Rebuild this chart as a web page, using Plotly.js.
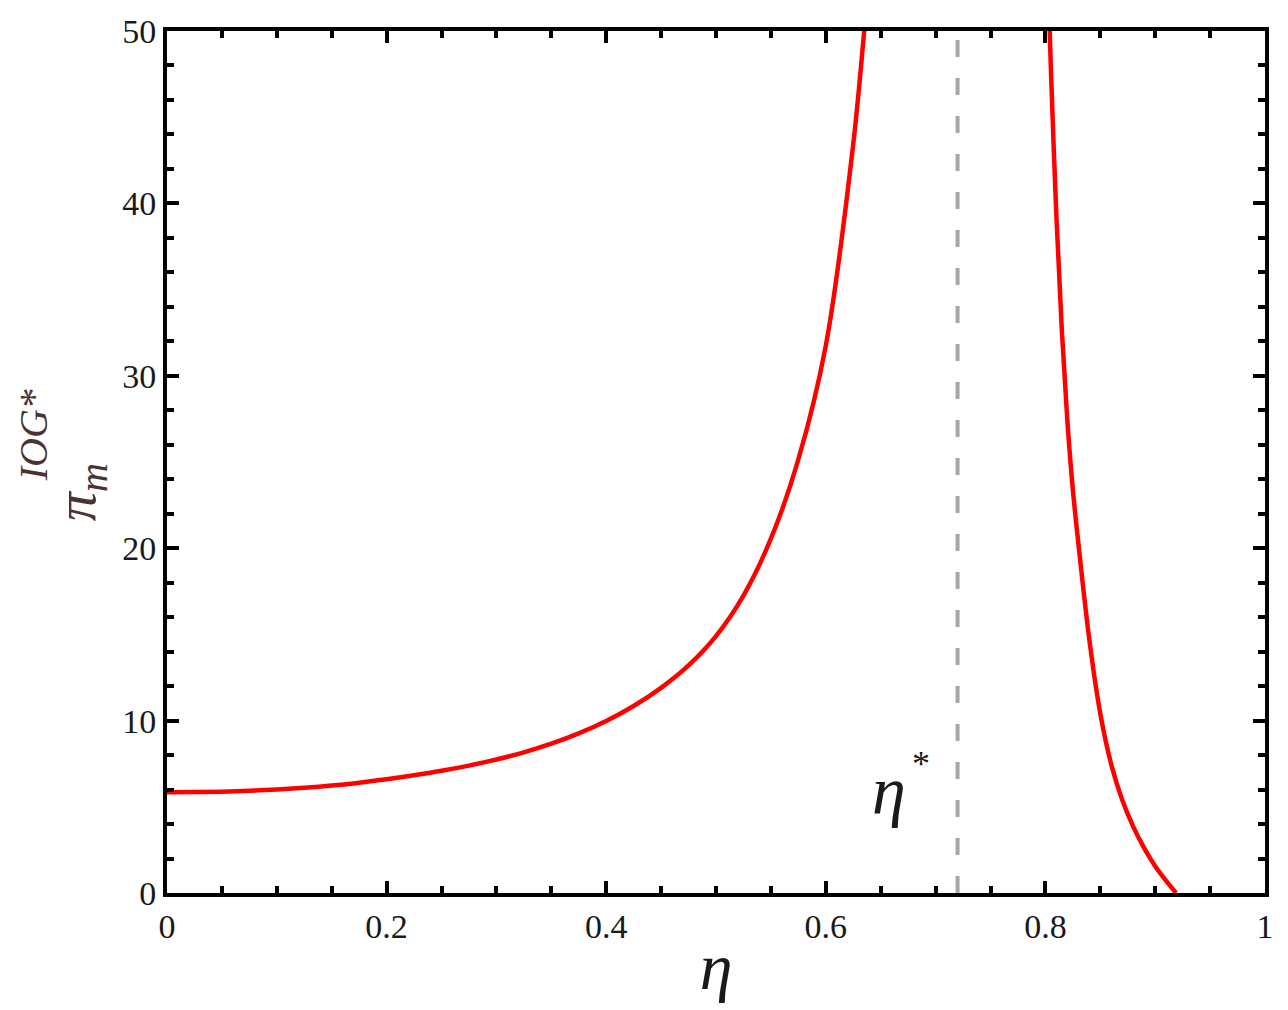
<!DOCTYPE html>
<html>
<head>
<meta charset="utf-8">
<script src="https://cdn.plot.ly/plotly-3.0.1.min.js"></script>
<style>
html,body{margin:0;padding:0;background:#fff;}
#chart{width:1288px;height:1010px;}
</style>
</head>
<body>
<div id="chart"></div>
<script>
// Left branch of pi_m^{IOG*} (eta < eta*)
const etaLeft = [0, 0.025, 0.05, 0.075, 0.10, 0.125, 0.15, 0.175, 0.20, 0.225, 0.25, 0.275, 0.30, 0.325, 0.35, 0.375, 0.40, 0.425, 0.45, 0.475, 0.50, 0.525, 0.55, 0.575, 0.60, 0.625, 0.635, 0.64];
const piLeft  = [5.85, 5.86, 5.88, 5.93, 6.0, 6.1, 6.23, 6.4, 6.6, 6.83, 7.09, 7.39, 7.74, 8.16, 8.66, 9.26, 9.98, 10.85, 11.9, 13.2, 14.9, 17.25, 20.55, 25.15, 31.75, 43.45, 50.0, 53.5];
// Right branch (eta > eta*)
const etaRight = [0.802, 0.805, 0.81, 0.815, 0.82, 0.825, 0.83, 0.84, 0.85, 0.86, 0.87, 0.88, 0.89, 0.90, 0.91, 0.919];
const piRight  = [54.0, 47.8, 39.3, 32.6, 27.4, 23.4, 20.3, 14.7, 10.4, 7.45, 5.4, 3.85, 2.6, 1.55, 0.7, 0.0];
// Threshold eta*
const etaStar = [0.72, 0.72];
const etaStarY = [0, 50];
// Axis ticks
const xTickVals = [0, 0.2, 0.4, 0.6, 0.8, 1];
const xTickText = ['0', '0.2', '0.4', '0.6', '0.8', '1'];
const yTickVals = [0, 10, 20, 30, 40, 50];
const yTickText = ['0', '10', '20', '30', '40', '50'];

const serif = 'Liberation Serif, DejaVu Serif, serif';
const titleColor = '#4a3432';

const traces = [
  {x: etaStar, y: etaStarY, mode: 'lines', type: 'scatter',
   line: {color: '#a6a6a6', width: 4, dash: '17px,21px'}, hoverinfo: 'skip'},
  {x: etaLeft, y: piLeft, mode: 'lines', type: 'scatter',
   line: {color: '#ff0000', width: 4.5, shape: 'spline', smoothing: 1}},
  {x: etaRight, y: piRight, mode: 'lines', type: 'scatter',
   line: {color: '#ff0000', width: 4.5, shape: 'spline', smoothing: 1}}
];

const axisCommon = {
  showgrid: false, zeroline: false,
  showline: true, linecolor: '#000', linewidth: 4, mirror: 'ticks',
  ticks: 'inside', ticklen: 12, tickwidth: 4, tickcolor: '#000',
  tickfont: {family: serif, size: 34, color: '#1a1a1a'}
};

const layout = {
  width: 1288, height: 1010,
  margin: {l: 167, r: 23, t: 31, b: 117},
  paper_bgcolor: '#fff', plot_bgcolor: '#fff',
  showlegend: false,
  xaxis: Object.assign({}, axisCommon, {
    range: [0, 1], tickmode: 'array', tickvals: xTickVals, ticktext: xTickText,
    minor: {dtick: 0.05, ticks: 'inside', ticklen: 7, tickwidth: 4, tickcolor: '#000', showgrid: false},
    title: {text: '<i>η</i>', font: {family: serif, size: 66, color: '#1a1a1a'}, standoff: 0}
  }),
  yaxis: Object.assign({}, axisCommon, {
    range: [0, 50], tickmode: 'array', tickvals: yTickVals, ticktext: yTickText,
    minor: {dtick: 2, ticks: 'inside', ticklen: 7, tickwidth: 4, tickcolor: '#000', showgrid: false}
  }),
  annotations: [
    {xref: 'paper', yref: 'paper', x: -0.080, y: 0.465, xanchor: 'center', yanchor: 'middle',
     text: '<i>π<sub>m</sub></i>', textangle: -90, showarrow: false,
     font: {family: serif, size: 58, color: titleColor}},
    {xref: 'paper', yref: 'paper', x: -0.122, y: 0.531, xanchor: 'center', yanchor: 'middle',
     text: '<i>IOG*</i>', textangle: -90, showarrow: false,
     font: {family: serif, size: 40, color: titleColor}},
    {xref: 'paper', yref: 'paper', x: 0.658, y: 0.118, xanchor: 'center', yanchor: 'middle',
     text: '<i>η</i>', showarrow: false,
     font: {family: serif, size: 68, color: '#1a1a1a'}},
    {xref: 'paper', yref: 'paper', x: 0.687, y: 0.150, xanchor: 'center', yanchor: 'middle',
     text: '*', showarrow: false,
     font: {family: serif, size: 36, color: '#1a1a1a'}}
  ]
};

Plotly.newPlot('chart', traces, layout, {displayModeBar: false, staticPlot: true});
</script>
</body>
</html>
